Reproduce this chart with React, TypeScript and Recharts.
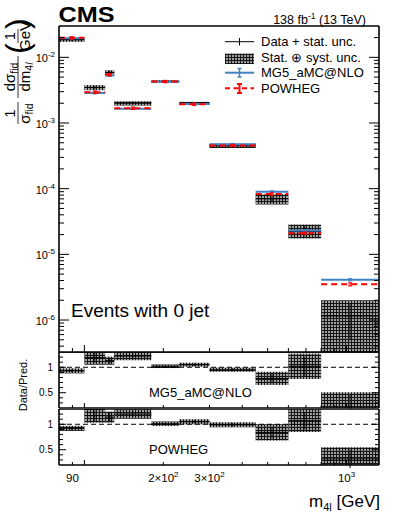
import React from 'react';
import {
  ComposedChart, Line, Scatter, ErrorBar, XAxis, YAxis, ReferenceArea, ReferenceLine,
} from 'recharts';

const FONT = '"Liberation Sans", Arial, Helvetica, sans-serif';
const BLUE = '#4282c4';
const RED = '#ff0000';

// m4l bin edges [GeV]
const binEdges = [80, 100, 120, 130, 180, 230, 300, 450, 600, 800, 1330];

// 1/sigma dsigma/dm4l, data (value, total and stat unc.)
const dataVal = [1.85e-2, 3.47e-3, 5.85e-3, 2.0e-3, 4.3e-3, 1.99e-3, 4.5e-4, 7.0e-5, 2.3e-5, 1.15e-6];
const dataTot = [1.3e-3, 3.1e-4, 5.2e-4, 1.45e-4, 2.0e-4, 1.1e-4, 3.5e-5, 1.25e-5, 5.5e-6, 8.5e-7];
const dataStat = [0.8e-3, 2.2e-4, 4.0e-4, 1.0e-4, 1.2e-4, 0.7e-4, 2.5e-5, 0.9e-5, 4.2e-6, 6.5e-7];

// predictions
const mgVal = [1.96e-2, 2.86e-3, 5.3e-3, 1.65e-3, 4.25e-3, 1.95e-3, 4.75e-4, 9.0e-5, 2.3e-5, 4.1e-6];
const mgErr = [6e-4, 9e-5, 1.6e-4, 5e-5, 1.3e-4, 6e-5, 1.5e-5, 3e-6, 8e-7, 1.6e-7];
const powVal = [1.98e-2, 2.95e-3, 5.45e-3, 1.68e-3, 4.28e-3, 1.93e-3, 4.55e-4, 8.3e-5, 2.1e-5, 3.5e-6];
const powErr = [8e-4, 1.2e-4, 2.2e-4, 7e-5, 1.7e-4, 8e-5, 1.8e-5, 3.5e-6, 9e-7, 1.8e-7];

// data / prediction
const mgRatio = [0.93, 1.19, 1.13, 1.22, 1.02, 1.05, 0.95, 0.78, 1.02, 0.29];
const mgRatioTot = [0.05, 0.14, 0.08, 0.08, 0.035, 0.04, 0.04, 0.13, 0.25, 0.22];
const mgRatioStat = [0.03, 0.1, 0.06, 0.055, 0.02, 0.025, 0.03, 0.09, 0.19, 0.17];
const powRatio = [0.92, 1.17, 1.14, 1.2, 1.01, 1.05, 0.99, 0.84, 1.07, 0.32];
const powRatioTot = [0.05, 0.14, 0.11, 0.09, 0.045, 0.05, 0.05, 0.16, 0.22, 0.23];
const powRatioStat = [0.03, 0.1, 0.08, 0.06, 0.03, 0.03, 0.035, 0.11, 0.17, 0.18];

// axes
const X_DOMAIN: [number, number] = [80, 1330];
const Y_DOMAIN: [number, number] = [3.26e-7, 3e-2];
const R_DOMAIN: [number, number] = [0.2, 1.3];
const xTicks = [90, 100, 200, 300, 400, 500, 600, 700, 800, 900, 1000];
const xTickLabels = [
  { v: 90, base: '90', exp: '' },
  { v: 200, base: '2×10', exp: '2' },
  { v: 300, base: '3×10', exp: '2' },
  { v: 1000, base: '10', exp: '3' },
];
const rTicks = [0.3, 0.4, 0.5, 0.6, 0.7, 0.8, 0.9, 1.0, 1.1, 1.2];
const rTickLabels = [{ v: 0.5, text: '0.5' }, { v: 1.0, text: '1' }];

const yTicksMain: number[] = [];
for (let e = -7; e <= -2; e++) {
  for (let k = 1; k <= 9; k++) {
    const v = +(k * Math.pow(10, e)).toPrecision(3);
    if (v > Y_DOMAIN[0] && v < Y_DOMAIN[1] * 0.999) yTicksMain.push(v);
  }
}

const isDecade = (v: number) => Math.abs(Math.log10(v) - Math.round(Math.log10(v))) < 1e-6;

const segs = (vals: number[]) =>
  vals.flatMap((v, i) => [
    { x: binEdges[i], y: v as number | null },
    { x: binEdges[i + 1], y: v as number | null },
    { x: binEdges[i + 1], y: null as number | null },
  ]);

const centres = (vals: number[], errs: number[]) =>
  vals.map((v, i) => ({ x: Math.sqrt(binEdges[i] * binEdges[i + 1]), y: v, err: errs[i] }));

const noShape = () => <g />;

const xTick = (side: 'top' | 'bottom', maj: number, min: number, labels: boolean) => (p: any) => {
  const v = p.payload.value;
  const len = isDecade(v) ? maj : min;
  const lab = labels ? xTickLabels.find((t) => t.v === v) : undefined;
  return (
    <g>
      <line x1={p.x} x2={p.x} y1={p.y} y2={side === 'top' ? p.y + len : p.y - len} stroke="#000" strokeWidth={1} />
      {lab && (
        <text x={p.x} y={p.y + 17} textAnchor="middle" fontSize={11.5} fontFamily={FONT} fill="#000">
          {lab.base}
          {lab.exp && <tspan dy={-5} fontSize={8}>{lab.exp}</tspan>}
        </text>
      )}
    </g>
  );
};

const yTickMain = (side: 'left' | 'right') => (p: any) => {
  const v = p.payload.value;
  const major = isDecade(v);
  const len = major ? 10 : 5;
  return (
    <g>
      <line x1={p.x} x2={side === 'left' ? p.x + len : p.x - len} y1={p.y} y2={p.y} stroke="#000" strokeWidth={1} />
      {side === 'left' && major && (
        <text x={p.x - 4} y={p.y + 5} textAnchor="end" fontSize={11} fontFamily={FONT} fill="#000">
          10<tspan dy={-5} fontSize={8}>{`-${-Math.round(Math.log10(v))}`}</tspan>
        </text>
      )}
    </g>
  );
};

const yTickRatio = (side: 'left' | 'right') => (p: any) => {
  const v = p.payload.value;
  const lab = rTickLabels.find((t) => Math.abs(t.v - v) < 1e-6);
  const len = lab ? 7 : 4;
  return (
    <g>
      <line x1={p.x} x2={side === 'left' ? p.x + len : p.x - len} y1={p.y} y2={p.y} stroke="#000" strokeWidth={1} />
      {side === 'left' && lab && (
        <text x={p.x - 6} y={p.y + 3.5} textAnchor="end" fontSize={10} fontFamily={FONT} fill="#000">
          {lab.text}
        </text>
      )}
    </g>
  );
};

const axisLine = { stroke: '#000', strokeWidth: 1.6 };

// axes get a 1px size: recharts skips drawing axes that are 0 wide or high
const xAxes = (maj: number, min: number, labels: boolean) => [
  <XAxis key="xb" dataKey="x" type="number" scale="log" domain={X_DOMAIN} allowDataOverflow ticks={xTicks}
    interval={0} height={1} tickSize={0} tickMargin={0} tickLine={false} axisLine={axisLine}
    tick={xTick('bottom', maj, min, labels)} />,
  <XAxis key="xt" xAxisId="top" orientation="top" type="number" scale="log" domain={X_DOMAIN} allowDataOverflow
    ticks={xTicks} interval={0} height={1} tickSize={0} tickMargin={0} tickLine={false} axisLine={axisLine}
    tick={xTick('top', maj, min, false)} />,
];

const yAxes = (domain: [number, number], ticks: number[], log: boolean, tick: (s: 'left' | 'right') => any) => [
  <YAxis key="yl" type="number" scale={log ? 'log' : 'linear'} domain={domain} allowDataOverflow ticks={ticks}
    interval={0} width={1} tickSize={0} tickMargin={0} tickLine={false} axisLine={axisLine} tick={tick('left')} />,
  <YAxis key="yr" yAxisId="right" orientation="right" type="number" scale={log ? 'log' : 'linear'} domain={domain}
    allowDataOverflow ticks={ticks} interval={0} width={1} tickSize={0} tickMargin={0} tickLine={false}
    axisLine={axisLine} tick={tick('right')} />,
];

const hatch = (id: string) => (
  <defs>
    <pattern id={id} width={3} height={3} patternUnits="userSpaceOnUse">
      <rect width={3} height={3} fill="#a0a0a0" />
      <rect width={3} height={1} fill="#151515" />
      <rect width={1} height={3} fill="#151515" />
    </pattern>
  </defs>
);

const MARGIN_X = { left: 58, right: 19 };

const ratioPanel = (id: string, top: number, height: number, bottom: number,
  ratio: number[], tot: number[], stat: number[], labels: boolean) => (
  <div style={{ position: 'absolute', left: 0, top }}>
    <ComposedChart width={399} height={height} margin={{ top: -1, bottom, ...MARGIN_X }}>
      {hatch(id)}
      {xAxes(5, 3, labels)}
      {yAxes(R_DOMAIN, rTicks, false, yTickRatio)}
      {ratio.map((r, i) => (
        <ReferenceArea key={i} x1={binEdges[i]} x2={binEdges[i + 1]} y1={r - tot[i]} y2={r + tot[i]}
          fill={`url(#${id})`} fillOpacity={1} stroke="none" ifOverflow="hidden" />
      ))}
      <ReferenceLine y={1} stroke="#000" strokeWidth={1} strokeDasharray="5 3" ifOverflow="hidden" />
      <Line data={segs(ratio)} dataKey="y" stroke="#000" strokeWidth={1} dot={false} activeDot={false}
        connectNulls={false} isAnimationActive={false} />
      <Scatter data={centres(ratio, stat)} dataKey="y" shape={noShape} isAnimationActive={false}>
        <ErrorBar dataKey="err" direction="y" width={0} stroke="#000" strokeWidth={1} />
      </Scatter>
    </ComposedChart>
  </div>
);

export default function App() {
  return (
    <div style={{ position: 'absolute', left: 0, top: 0, width: 399, height: 518, background: '#fff', fontFamily: FONT }}>
      <div style={{ position: 'absolute', left: 0, top: 0 }}>
        <ComposedChart width={399} height={353} margin={{ top: 25, bottom: 0, ...MARGIN_X }}>
          {hatch('hatchMain')}
          {xAxes(7, 4, false)}
          {yAxes(Y_DOMAIN, yTicksMain, true, yTickMain)}
          {dataVal.map((v, i) => (
            <ReferenceArea key={i} x1={binEdges[i]} x2={binEdges[i + 1]} y1={v - dataTot[i]} y2={v + dataTot[i]}
              fill="url(#hatchMain)" fillOpacity={1} stroke="none" ifOverflow="hidden" />
          ))}
          <Line data={segs(dataVal)} dataKey="y" stroke="#000" strokeWidth={1} dot={false} activeDot={false}
            connectNulls={false} isAnimationActive={false} />
          <Scatter data={centres(dataVal, dataStat)} dataKey="y" shape={noShape} isAnimationActive={false}>
            <ErrorBar dataKey="err" direction="y" width={0} stroke="#000" strokeWidth={1} />
          </Scatter>
          <Line data={segs(mgVal)} dataKey="y" stroke={BLUE} strokeWidth={2} dot={false} activeDot={false}
            connectNulls={false} isAnimationActive={false} />
          <Scatter data={centres(mgVal, mgErr)} dataKey="y" shape={noShape} isAnimationActive={false}>
            <ErrorBar dataKey="err" direction="y" width={2} stroke={BLUE} strokeWidth={1} />
          </Scatter>
          <Line data={segs(powVal)} dataKey="y" stroke={RED} strokeWidth={2} strokeDasharray="6 4" dot={false}
            activeDot={false} connectNulls={false} isAnimationActive={false} />
          <Scatter data={centres(powVal, powErr)} dataKey="y" shape={noShape} isAnimationActive={false}>
            <ErrorBar dataKey="err" direction="y" width={2} stroke={RED} strokeWidth={1.2} />
          </Scatter>
        </ComposedChart>
      </div>

      {ratioPanel('hatchMg', 352, 57, 0, mgRatio, mgRatioTot, mgRatioStat, false)}
      {ratioPanel('hatchPow', 409, 109, 52, powRatio, powRatioTot, powRatioStat, true)}

      <svg width={399} height={518} style={{ position: 'absolute', left: 0, top: 0, pointerEvents: 'none' }}
        fontFamily={FONT}>
        <defs>
          <pattern id="hatchLeg" width={3} height={3} patternUnits="userSpaceOnUse">
            <rect width={3} height={3} fill="#a0a0a0" />
            <rect width={3} height={1} fill="#151515" />
            <rect width={1} height={3} fill="#151515" />
          </pattern>
        </defs>
        <text x={58.5} y={21.7} fontSize={22} fontWeight="bold" textLength={56} lengthAdjust="spacingAndGlyphs">CMS</text>
        <text x={366} y={23.5} fontSize={12.5} textAnchor="end">
          138 fb<tspan dy={-5} fontSize={8.5}>-1</tspan><tspan dy={5}> (13 TeV)</tspan>
        </text>

        {/* legend */}
        <line x1={225} x2={254} y1={41.7} y2={41.7} stroke="#000" strokeWidth={1} />
        <line x1={239.5} x2={239.5} y1={38} y2={45.5} stroke="#000" strokeWidth={1} />
        <text x={261} y={46} fontSize={13}>Data + stat. unc.</text>
        <rect x={225} y={53.5} width={29} height={10.5} fill="url(#hatchLeg)" />
        <text x={261} y={61.5} fontSize={13}>Stat. ⊕ syst. unc.</text>
        <line x1={225} x2={254} y1={72.7} y2={72.7} stroke={BLUE} strokeWidth={2} />
        <line x1={239.5} x2={239.5} y1={68.5} y2={77} stroke={BLUE} strokeWidth={1.5} />
        <line x1={237.5} x2={241.5} y1={68.5} y2={68.5} stroke={BLUE} strokeWidth={1.5} />
        <line x1={237.5} x2={241.5} y1={77} y2={77} stroke={BLUE} strokeWidth={1.5} />
        <text x={261} y={77} fontSize={13}>MG5_aMC@NLO</text>
        <line x1={225} x2={254} y1={88.3} y2={88.3} stroke={RED} strokeWidth={2} strokeDasharray="5 3.5" />
        <line x1={239.5} x2={239.5} y1={84} y2={93} stroke={RED} strokeWidth={2} />
        <line x1={237} x2={242} y1={84} y2={84} stroke={RED} strokeWidth={2} />
        <line x1={237} x2={242} y1={93} y2={93} stroke={RED} strokeWidth={2} />
        <text x={261} y={92.5} fontSize={13}>POWHEG</text>

        <text x={71} y={316.7} fontSize={19}>Events with 0 jet</text>

        {/* y axis title */}
        <g transform="translate(0,127) rotate(-90)" fontSize={15}>
          <text x={13.5} y={15} textAnchor="middle">1</text>
          <line x1={3} x2={25} y1={18} y2={18} stroke="#000" strokeWidth={0.8} />
          <text x={13.5} y={30} textAnchor="middle">σ<tspan fontSize={10.5} dy={3}>fid</tspan></text>
          <text x={50} y={15} textAnchor="middle">dσ<tspan fontSize={10.5} dy={3}>fid</tspan></text>
          <line x1={29} x2={71} y1={18} y2={18} stroke="#000" strokeWidth={0.8} />
          <text x={50} y={30} textAnchor="middle">dm<tspan fontSize={10.5} dy={3}>4<tspan fontStyle="italic">l</tspan></tspan></text>
          <text x={73} y={28} fontSize={32}>(</text>
          <text x={91} y={15} textAnchor="middle">1</text>
          <line x1={84} x2={98} y1={18} y2={18} stroke="#000" strokeWidth={0.8} />
          <text x={91} y={30} textAnchor="middle">GeV</text>
          <text x={98} y={28} fontSize={32}>)</text>
        </g>

        <text transform="translate(27,385) rotate(-90)" textAnchor="middle" fontSize={11}>Data/Pred.</text>
        <text x={149} y={397} fontSize={13}>MG5_aMC@NLO</text>
        <text x={149} y={454.3} fontSize={13}>POWHEG</text>

        <text x={380} y={506.7} fontSize={17} textAnchor="end">
          m<tspan fontSize={11} dy={4}>4l</tspan><tspan dy={-4}> [GeV]</tspan>
        </text>
      </svg>
    </div>
  );
}
